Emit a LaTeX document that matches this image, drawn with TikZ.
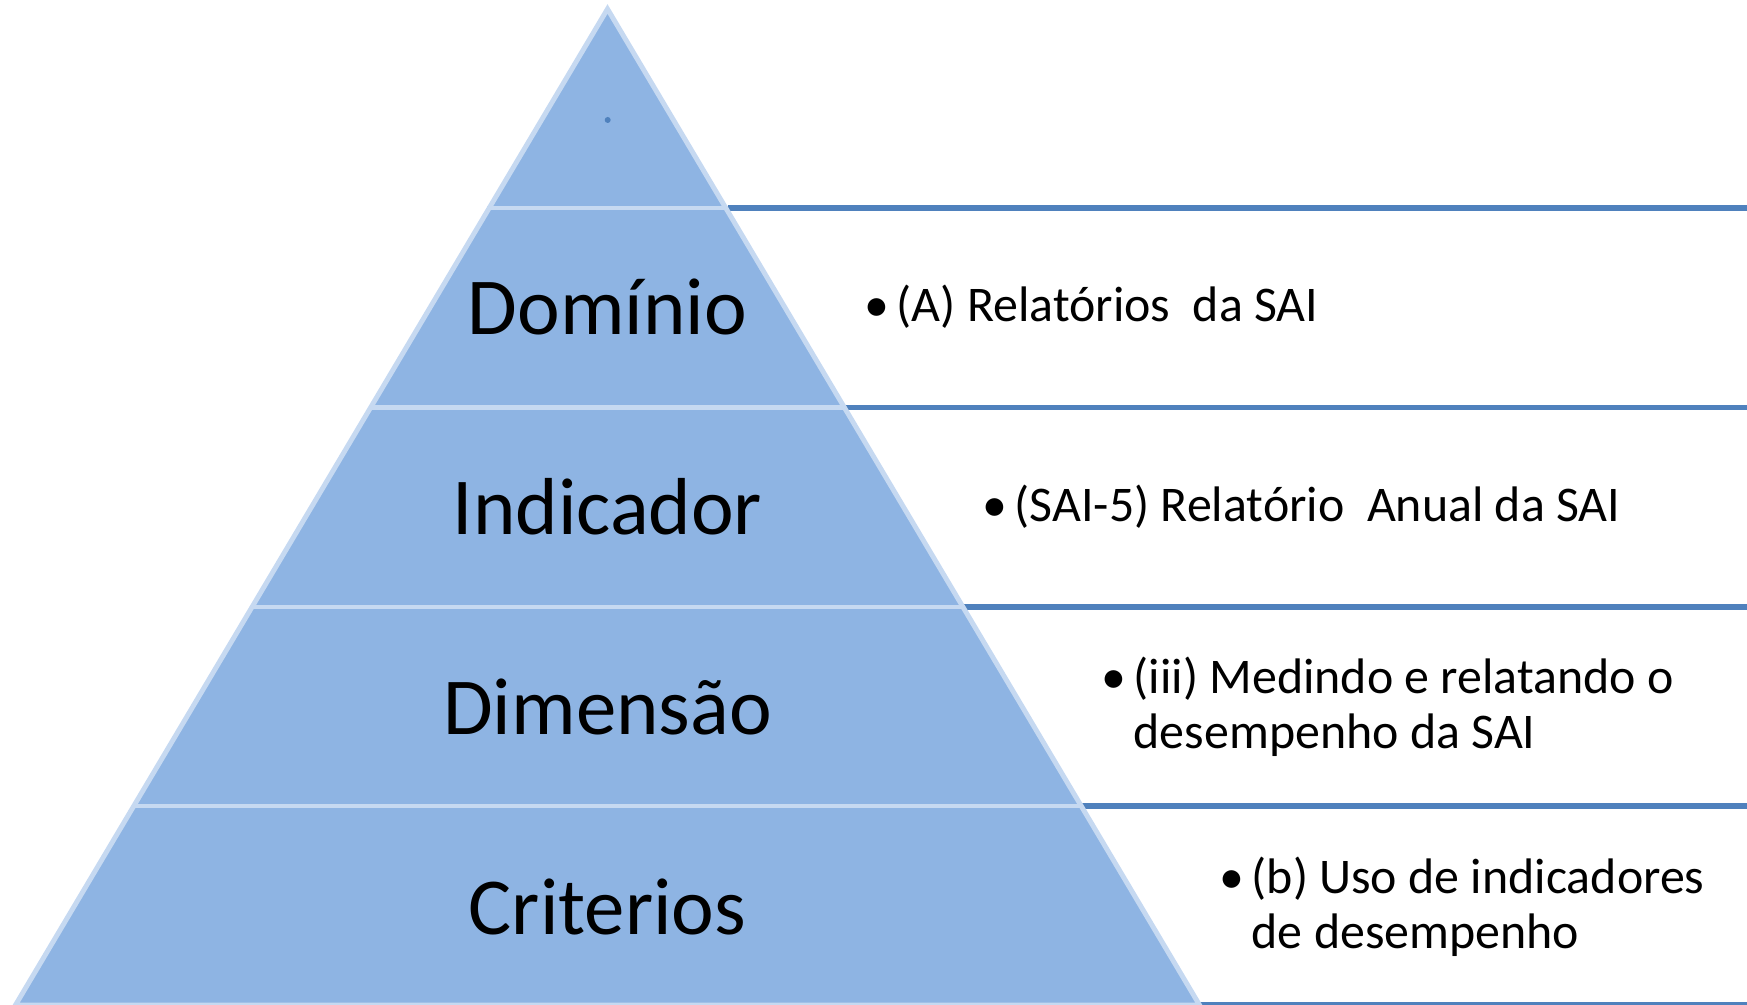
\documentclass[tikz,border=0pt]{standalone}
\usepackage{fontspec}
\setmainfont{Carlito}
\usepackage{tikz}
\definecolor{pyrfill}{HTML}{8EB4E3}
\definecolor{pyredge}{HTML}{C6D9F1}
\definecolor{ruleblue}{HTML}{4F81BD}
\newcommand{\itembullet}{\makebox[0.32cm][l]{\textbullet}}

\begin{document}
\begin{tikzpicture}[
    level/.style={font=\fontsize{23}{27}\selectfont},
    item/.style={anchor=west, align=left, inner sep=0pt, font=\fontsize{14.2}{15.8}\selectfont},
    rule/.style={line width=1.5pt, draw=ruleblue},
    band/.style={line width=1.4pt, draw=pyredge}
]
    \useasboundingbox (0,0) rectangle (17.47,10.05);
    % pyramid corners, left and right edge at each level
    \coordinate (top) at (6.075,9.96);
    \coordinate (l4) at (4.873,7.97);
    \coordinate (l3) at (3.692,5.975);
    \coordinate (l2) at (2.511,3.98);
    \coordinate (l1) at (1.333,1.99);
    \coordinate (l0) at (0.155,0);
    \coordinate (r4) at (7.277,7.97);
    \coordinate (r3) at (8.458,5.975);
    \coordinate (r2) at (9.639,3.98);
    \coordinate (r1) at (10.817,1.99);
    \coordinate (r0) at (11.995,0);
    \coordinate (e4) at (17.47,7.97);
    \coordinate (e3) at (17.47,5.975);
    \coordinate (e2) at (17.47,3.98);
    \coordinate (e1) at (17.47,1.99);
    \coordinate (e0) at (17.47,0);
    \draw[rule] (r4) -- (e4);
    \draw[rule] (r3) -- (e3);
    \draw[rule] (r2) -- (e2);
    \draw[rule] (r1) -- (e1);
    \draw[rule] (r0) -- (e0);
    \fill[pyrfill] (top) -- (l0) -- (r0) -- cycle;
    \draw[band] (l4) -- (r4);
    \draw[band] (l3) -- (r3);
    \draw[band] (l2) -- (r2);
    \draw[band] (l1) -- (r1);
    \draw[band] (top) -- (l0) -- (r0) -- cycle;
    \node[circle, fill=ruleblue, inner sep=0pt, minimum size=0.06cm] (dot) at (6.077,8.85) {};
    \node[level] (domain) at (6.075,6.98) {Domínio};
    \node[level] (indicator) at (6.075,4.98) {Indicador};
    \node[level] (dimension) at (6.075,2.98) {Dimensão};
    \node[level] (criteria) at (6.075,0.98) {Criterios};
    \node[item] (itema) at (8.64,6.98) {\itembullet(A) Relatórios~ da SAI};
    \node[item] (itemb) at (9.82,4.98) {\itembullet(SAI-5) Relatório~ Anual da SAI};
    \node[item] (itemc) at (11.01,2.98) {\itembullet(iii) Medindo e relatando o\\\hspace*{0.32cm}desempenho da SAI};
    \node[item] (itemd) at (12.19,0.98) {\itembullet(b) Uso de indicadores\\\hspace*{0.32cm}de desempenho};
\end{tikzpicture}
\end{document}
